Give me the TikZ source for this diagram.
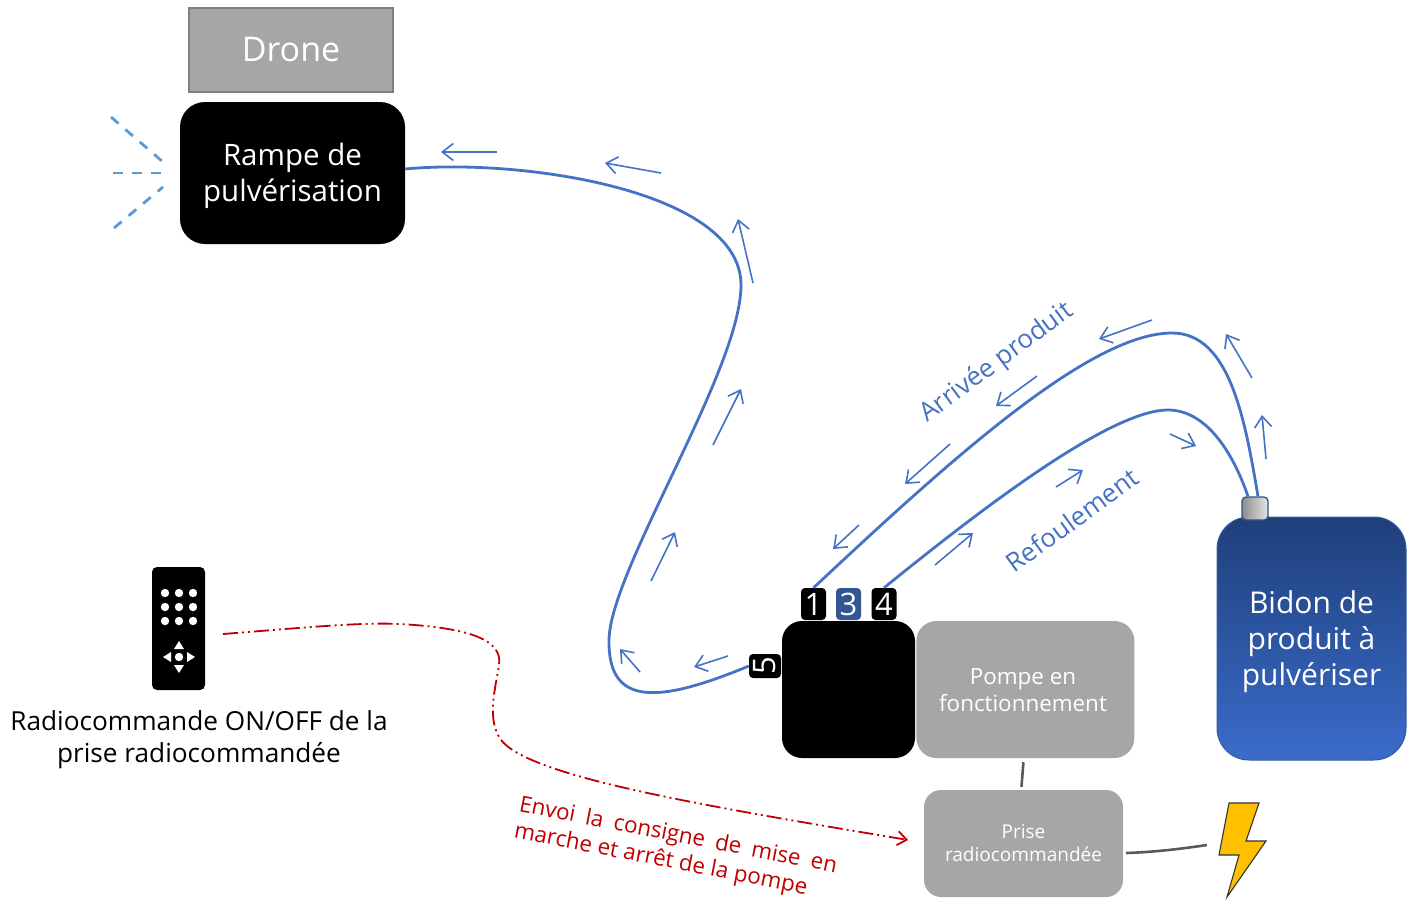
\documentclass[tikz,border=0pt]{standalone}
\usepackage{fontspec}
\setmainfont{Open Sans}
\usepackage{xcolor}
\definecolor{colorFlow}{HTML}{4472C4}
\definecolor{colorSpray}{HTML}{5B9BD5}
\definecolor{colorOrder}{HTML}{C00000}
\definecolor{colorBox}{HTML}{A6A6A6}
\definecolor{colorTankTop}{HTML}{1F3F7A}
\definecolor{colorTankBottom}{HTML}{3A6CCB}
\definecolor{colorBolt}{HTML}{FFC000}
\usetikzlibrary{arrows.meta, positioning}
\newcommand{\fsz}[1]{\fontsize{#1}{1.2\dimexpr #1pt\relax}\selectfont}
\tikzset{
  blackbox/.style={fill=black, text=white, align=center, inner sep=0pt},
  greybox/.style={fill=colorBox, text=white, align=center, inner sep=0pt},
  boxtext/.style={text=white, align=center, inner sep=0pt},
  numbox/.style={fill=black, text=white, rounded corners=4pt, inner sep=0pt, minimum width=25pt, minimum height=32pt, font=\fsz{31}},
  flowline/.style={colorFlow, line width=2.8pt},
  flowarrow/.style={colorFlow, line width=1.6pt, ->},
  spray/.style={colorSpray, line width=2.8pt, dash pattern=on 10pt off 9pt},
  power/.style={black!65, line width=2.6pt}
}

\begin{document}
\begin{tikzpicture}[x=1pt, y=-1pt, >={Straight Barb[length=11pt, width=17pt]}]
\useasboundingbox (0,0) rectangle (1413,902);
\node[greybox, draw=black!50, line width=1.4pt, minimum width=204pt, minimum height=84pt, font=\fsz{34}] (drone) at (291,50) {Drone};
\node[blackbox, rounded corners=25pt, minimum width=225pt, minimum height=142pt] (rampe) at (292.5,173) {};
\node[boxtext, font=\fsz{29.5}] (rampetext) at (292.5,176) {Rampe de\\pulvérisation};
\node[blackbox, rounded corners=20pt, minimum width=133pt, minimum height=137pt] (pompe) at (848.5,689.5) {};
\node[greybox, rounded corners=20pt, minimum width=218pt, minimum height=137pt, right=1pt of pompe] (marche) {};
\node[boxtext, font=\fsz{22.4}] (marchetext) at (1023,690) {Pompe en\\fonctionnement};
\node[greybox, rounded corners=17pt, minimum width=199pt, minimum height=107pt, font=\fsz{19}] (prise) at (1023.5,843.5) {Prise\\radiocommandée};
\node[inner sep=0pt, minimum width=189pt, minimum height=243pt, rounded corners=32pt, draw=colorFlow!80!black, line width=1pt, top color=colorTankTop, bottom color=colorTankBottom] (bidon) at (1311.5,638.5) {};
\node[boxtext, font=\fsz{30}] (bidontext) at (1311.5,641.5) {Bidon de\\produit à\\pulvériser};
\node[rounded corners=4pt, draw=colorFlow!70!black, line width=1.3pt, left color=black!45, right color=black!10, minimum width=26pt, minimum height=23pt, inner sep=0pt] (cap) at (1255,508.5) {};
\node[numbox] (num1) at (813.5,604) {1};
\node[numbox, fill=colorFlow!75!black] (num3) at (848.5,604) {3};
\node[numbox] (num4) at (884,604) {4};
\node[numbox, rotate=90, minimum width=24pt, minimum height=32pt] (num5) at (765,666) {5};

% circuit
\draw[flowline] ([yshift=4pt]rampe.east) .. controls (520,158) and (741,190) .. (741,285) .. controls (741,370) and (610,570) .. (609,640) .. controls (608,705) and (655,705) .. (num5.north);
\draw[flowline] (num1.north) .. controls (950,460) and (1090,333) .. (1172,333) .. controls (1230,333) and (1245,420) .. ([xshift=3pt]cap.north);
\draw[flowline] (num4.north) .. controls (980,510) and (1110,410) .. (1168,410) .. controls (1205,410) and (1232,450) .. ([xshift=-7pt]cap.north);
\foreach \i/\xa/\ya/\xb/\yb in {1/497/152/441/152, 2/661/173/605/163, 3/753/283/738/219, 4/713/445/741/389,
  5/651/581/675/532, 6/728/656/694/667, 7/640/672/620/649, 8/859/525/833/549, 9/950/444/905/484,
  10/1037/376/996/406, 11/1152/320/1099/339, 12/1252/378/1226/334, 13/1266/459/1262/415,
  14/1170/434/1196/446, 15/1056/487/1083/470, 16/935/565/973/533} {
  \coordinate (from\i) at (\xa,\ya);
  \coordinate (to\i) at (\xb,\yb);
  \draw[flowarrow] (from\i) -- (to\i);
}
\node[colorFlow, rotate=36.5, font=\fsz{26}, inner sep=0pt] (arrivee) at (997,363) {Arrivée produit};
\node[colorFlow, rotate=36, font=\fsz{26}, inner sep=0pt] (refoul) at (1072,520) {Refoulement};

% jets
\coordinate (jet1) at (111,117);
\coordinate (jet2) at (113,173);
\coordinate (jet3) at (114,228);
\coordinate (base1) at (163,162);
\coordinate (base2) at (163,173);
\coordinate (base3) at (163,187);
\foreach \i in {1,2,3} {
  \draw[spray] (jet\i) -- (base\i);
}

% remote
\node[fill=black, rounded corners=5pt, minimum width=53pt, minimum height=123pt, inner sep=0pt] (remote) at (178.5,628.5) {};
\foreach \x in {165,179,193} {
  \foreach \y in {593,607,621} {
    \fill[white] (\x,\y) circle (4.2pt);
  }
}
\fill[white] (179,657) circle (4.2pt);
\fill[white] (179,641) -- (184,649) -- (174,649) -- cycle;
\fill[white] (179,673) -- (184,665) -- (174,665) -- cycle;
\fill[white] (163,657) -- (171,652) -- (171,662) -- cycle;
\fill[white] (195,657) -- (187,652) -- (187,662) -- cycle;
\node[align=center, font=\fsz{26.2}, inner sep=0pt] (remotetext) at (199,739.5) {Radiocommande ON/OFF de la\\prise radiocommandée};

% order
\coordinate (orderstart) at (223,634);
\coordinate (orderend) at (908,840);
\draw[colorOrder, line width=1.8pt, dash pattern=on 15pt off 4pt on 2pt off 4pt on 2pt off 4pt, ->, >={Straight Barb[length=9pt, width=14pt]}] (orderstart) .. controls (300,628) and (360,622) .. (400,624) .. controls (470,628) and (503,640) .. (499,665) .. controls (495,690) and (488,715) .. (498,735) .. controls (515,775) and (700,805) .. (orderend);
\node[colorOrder, rotate=-11, align=left, font=\fsz{22.4}, inner sep=0pt] (ordertext) at (675.5,849.5) {\makebox[323pt][s]{Envoi la consigne de mise en}\\marche et arrêt de la pompe};

% power
\draw[power] ([xshift=-2pt, yshift=-4pt]marche.south) -- ([xshift=-2pt, yshift=3pt]prise.north);
\coordinate (boltend) at (1207,845);
\draw[power] ([xshift=3pt, yshift=-9.5pt]prise.east) .. controls (1155,852) and (1180,849) .. (boltend);
\draw[fill=colorBolt, draw=black!80, line width=1.1pt, line join=miter] (1229,803) -- (1259,803) -- (1246,841) -- (1266,841) -- (1227,897) -- (1239,855) -- (1219,855) -- cycle;
\end{tikzpicture}
\end{document}
